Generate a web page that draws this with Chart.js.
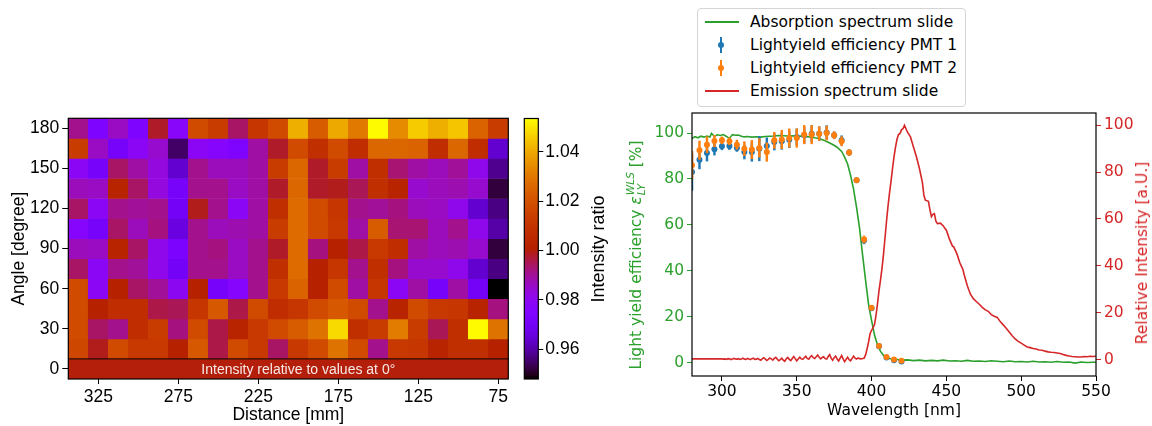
<!DOCTYPE html>
<html>
<head>
<meta charset="utf-8">
<script src="https://cdn.jsdelivr.net/npm/chart.js@4.4.1/dist/chart.umd.min.js"></script>
<style>
  body { margin: 0; background: #fff; }
  #wrap { position: relative; width: 1152px; height: 426px; overflow: hidden; }
  canvas { position: absolute; top: 0; }
  .vlabel { position: absolute; white-space: nowrap; transform: translate(-50%, -50%) rotate(-90deg); }
  #legend { position: absolute; left: 697px; top: 8px; width: 267px; height: 97px; border: 1px solid #d4d4d4;
            border-radius: 4px; background: #fff; font: 15.5px "DejaVu Sans"; color: #000; }
  .lrow { position: absolute; left: 0; height: 20px; width: 100%; }
  .ltext { position: absolute; left: 52px; top: 0; line-height: 20px; }
  .lline { position: absolute; left: 7px; top: 9px; width: 34px; height: 2px; }
  .lbar { position: absolute; left: 22px; top: 2px; width: 2px; height: 16px; }
  .ldot { position: absolute; left: 20px; top: 7px; width: 6px; height: 6px; border-radius: 50%; }
  .ss { display: inline-block; vertical-align: middle; font-size: 68%; line-height: 1.05; margin-left: 1px; }
  .ss span { display: block; font-style: italic; }
</style>
</head>
<body>
<div id="wrap">
  <canvas id="heat" width="520" height="426" style="left:0"></canvas>
  <canvas id="cbar" width="110" height="426" style="left:515px"></canvas>
  <canvas id="spec" width="552" height="426" style="left:600px"></canvas>
  <div class="vlabel" style="left:598px; top:249px; font:18px 'Liberation Sans'">Intensity ratio</div>
  <div class="vlabel" style="left:636px; top:255px; font:15.5px 'DejaVu Sans'; color:#2ca02c">Light yield efficiency <i>ε</i><span class="ss"><span>WLS</span><span>LY</span></span> [%]</div>
  <div class="vlabel" style="left:1142px; top:253px; font:15.5px 'DejaVu Sans'; color:#d62728">Relative Intensity [a.U.]</div>
  <div id="legend"></div>
</div>
<script>
// ---------- heat map: intensity ratio per distance (columns) and angle (rows) ----------
const distances = [337.5, 325, 312.5, 300, 287.5, 275, 262.5, 250, 237.5, 225, 212.5,
                   200, 187.5, 175, 162.5, 150, 137.5, 125, 112.5, 100, 87.5, 75];
const angles = [180, 165, 150, 135, 120, 105, 90, 75, 60, 45, 30, 15];
const distTicks = [325, 275, 225, 175, 125, 75];
const angleTicks = [0, 30, 60, 90, 120, 150, 180];
const ratioTicks = [0.96, 0.98, 1.00, 1.02, 1.04];

const ratio180 = [0.991, 0.974, 0.986, 0.974, 0.998, 0.978, 1.018, 1.013, 0.994, 1.011, 1.018, 1.041, 1.023, 1.040, 1.030, 1.053, 1.034, 1.046, 1.041, 1.045, 1.025, 1.013];
const ratio165 = [1.013, 0.986, 0.971, 0.979, 0.985, 0.955, 0.979, 0.977, 0.974, 0.989, 0.998, 1.018, 1.008, 1.018, 1.007, 1.026, 1.026, 1.025, 1.007, 1.026, 1.007, 0.964];
const ratio150 = [0.979, 0.971, 0.994, 0.989, 0.983, 0.964, 0.991, 0.987, 0.987, 0.989, 1.013, 1.026, 0.998, 1.013, 0.989, 1.008, 0.993, 0.989, 0.987, 0.990, 0.981, 0.958];
const ratio135 = [0.987, 0.986, 1.003, 0.994, 0.983, 0.971, 0.991, 0.991, 0.986, 0.989, 0.998, 1.026, 0.998, 0.999, 0.995, 1.008, 1.003, 0.985, 0.987, 0.988, 0.985, 0.952];
const ratio120 = [0.994, 0.979, 0.991, 0.990, 0.991, 0.970, 0.999, 0.991, 0.979, 0.989, 1.008, 1.027, 1.018, 1.011, 0.991, 0.990, 0.992, 0.987, 0.986, 0.981, 0.964, 0.957];
const ratio105 = [0.977, 0.971, 0.994, 0.987, 0.992, 0.966, 0.991, 0.987, 0.988, 0.989, 1.013, 1.027, 1.018, 1.012, 0.989, 1.023, 0.993, 0.993, 0.987, 0.991, 0.981, 0.960];
const ratio90  = [0.987, 0.986, 1.003, 0.994, 0.981, 0.973, 0.991, 0.992, 0.986, 0.991, 0.998, 1.027, 0.992, 1.002, 0.996, 1.012, 1.007, 0.989, 0.987, 0.988, 0.985, 0.952];
const ratio75  = [0.994, 0.979, 0.991, 0.990, 0.981, 0.970, 0.991, 0.991, 0.986, 0.991, 1.008, 1.027, 1.002, 1.011, 0.991, 1.008, 0.992, 0.985, 0.985, 0.981, 0.964, 0.957];
const ratio60  = [1.018, 0.979, 1.002, 0.994, 0.990, 0.980, 1.002, 0.971, 0.977, 0.991, 1.012, 1.025, 1.002, 1.018, 0.989, 1.011, 0.979, 0.989, 0.971, 0.989, 0.970, 0.948];
const ratio45  = [1.018, 1.002, 1.007, 1.007, 0.996, 0.995, 1.011, 1.022, 0.996, 1.018, 1.007, 1.011, 1.018, 1.022, 1.018, 0.991, 1.003, 1.018, 1.012, 1.011, 1.003, 0.992];
const ratio30  = [1.018, 0.994, 0.991, 1.007, 1.013, 0.992, 1.018, 0.996, 1.003, 1.012, 1.018, 1.023, 1.029, 1.048, 1.008, 1.013, 1.031, 1.013, 0.995, 1.008, 1.053, 1.029];
const ratio15  = [1.017, 0.999, 1.018, 1.012, 1.012, 1.002, 1.022, 0.996, 1.018, 1.012, 0.994, 1.012, 1.018, 1.029, 1.018, 0.991, 1.012, 1.011, 1.003, 1.008, 1.008, 1.002];
const ratioRows = [ratio180, ratio165, ratio150, ratio135, ratio120, ratio105, ratio90, ratio75, ratio60, ratio45, ratio30, ratio15];
const zeroRowRatio = 1.0;
const zeroRowText = 'Intensity relative to values at 0°';
const cbMin = 0.948, cbMax = 1.0535;

// ---------- spectra ----------
const absWl  = [280, 282, 284, 286, 288, 290, 292, 293, 295, 297, 299, 301, 303, 305, 307, 309, 311, 313, 315, 317, 320, 323, 326, 329, 332, 335, 338, 341, 344, 347, 350, 353, 356, 359, 362, 365, 368, 371, 374, 377, 380, 382, 384, 386, 388, 390, 392, 394, 396, 398, 400, 402, 404, 406, 408, 410, 412, 414, 417, 420, 424, 428, 432, 436, 440, 444, 448, 452, 456, 460, 464, 468, 472, 476, 480, 484, 488, 492, 496, 500, 504, 508, 512, 516, 520, 524, 528, 532, 536, 540, 544, 548, 550];
const absVal = [97.6, 98.4, 97.9, 98.6, 98.2, 98.7, 98.3, 99.8, 98.6, 99.2, 98.9, 99.3, 98.5, 97.6, 99.3, 99.0, 99.1, 98.6, 98.3, 98.5, 98.2, 98.4, 98.2, 98.5, 98.6, 98.7, 98.9, 98.8, 98.7, 98.8, 98.6, 98.7, 98.4, 98.3, 97.9, 97.6, 96.9, 96.0, 95.0, 93.8, 92.0, 89.5, 86.5, 81.5, 75.5, 67.5, 58.5, 47.0, 36.0, 25.5, 18.5, 12.0, 7.8, 5.0, 3.3, 2.5, 1.9, 1.6, 1.5, 1.2, 1.3, 1.0, 1.2, 0.9, 1.1, 0.9, 1.2, 0.8, 0.9, 0.7, 1.1, 0.7, 0.8, 0.6, 0.9, 0.7, 0.5, 0.8, 0.5, 0.6, 0.4, 0.7, 0.4, 0.5, 0.3, 0.6, 0.3, 0.4, -0.1, 0.4, 0.2, 0.3, 0.3];

const emWl  = [280, 300, 301, 302, 303, 304, 305, 306, 307, 308, 309, 310, 311, 312, 313, 314, 315, 316, 317, 318, 319,
               320, 321, 322, 323, 324, 325, 326, 327, 328, 329, 330, 331, 332, 333, 334, 335, 336, 337, 338, 339,
               340, 341, 342, 343, 344, 345, 346, 347, 348, 349, 350, 351, 352, 353, 354, 355, 356, 357, 358, 359,
               360, 361, 362, 363, 364, 365, 366, 367, 368, 369, 370, 371, 372, 373, 374, 375, 376, 377, 378, 379,
               380, 381, 382, 383, 384, 385, 386, 387, 388, 389, 390, 391, 392, 393, 394,
               395, 396, 397, 398, 399, 400, 401, 402, 403, 404, 405, 406, 407, 408, 409, 410, 411, 412, 413, 414, 415, 416, 417, 418, 419, 420, 421, 422, 423, 424, 426, 428, 430, 432, 434, 435, 436, 438, 439, 440, 441, 442, 443, 444, 446, 448, 449, 450, 452, 454, 455, 457, 459, 461, 462, 464, 466, 468, 470, 472, 474, 476, 478, 480, 482, 484, 486, 488, 490, 492, 494, 496, 498, 500, 502, 504, 506, 508, 510, 512, 514, 516, 518, 520, 522, 524, 526, 528, 530, 532, 534, 536, 538, 540, 542, 544, 546, 548, 550];
const emVal = [0.3, 0.3, 0.2, 0.3, 0.1, 0.4, 0.3, 0.0, 0.2, 0.5, 0.3, 0.2, 0.4, 0.1, 0.3, 0.6, 0.2, 0.1, 0.5, 0.3, 0.0,
               0.4, 0.6, 0.1, 0.2, 0.5, 0.0, -0.3, 0.4, 0.8, 0.2, -0.4, 0.1, 0.7, 0.3, -0.2, 0.5, 1.0, 0.2, -0.5, 0.0,
               0.6, -0.2, -0.7, 0.3, 0.9, 0.1, -0.4, 0.5, 1.3, 0.4, -0.6, 0.2, 1.0, 0.3, 0.1, 0.8, 1.4, 0.5, 0.2, 1.1,
               1.7, 0.8, 0.5, 1.2, 1.9, 1.0, 0.3, 0.9, 1.2, 0.4, 0.2, 1.3, 2.1, 0.6, -0.3, 0.8, 1.5, 0.2, -0.6, 0.6,
               1.7, 0.3, -0.9, 0.1, 1.0, 0.0, -0.5, 0.5, 1.5, 0.6, 0.2, 0.7, 0.4, 0.3, 0.5,
               0.6, 2.0, 4.5, 7.5, 11.0, 12.5, 13.5, 15.0, 19.0, 24.0, 29.5, 34.0, 39.0, 45.0, 52.0, 59.0, 65.5, 71.0, 76.0, 81.5, 86.5, 90.5, 94.0, 96.0, 96.5, 98.0, 98.5, 100.0, 98.5, 97.0, 95.0, 90.7, 86.5, 81.5, 75.5, 70.0, 68.0, 67.5, 64.0, 61.0, 62.0, 62.3, 59.0, 58.0, 58.2, 57.0, 56.0, 55.2, 51.5, 48.5, 48.0, 45.2, 41.3, 38.5, 36.0, 31.5, 28.0, 26.0, 24.8, 23.6, 22.3, 21.2, 20.6, 19.2, 18.5, 18.0, 16.2, 14.8, 13.4, 11.8, 10.2, 8.8, 7.8, 7.0, 6.2, 5.4, 5.1, 4.7, 4.5, 4.1, 4.0, 3.6, 3.3, 3.1, 3.0, 2.8, 2.6, 2.2, 1.8, 1.5, 1.3, 1.2, 1.1, 1.1, 1.3, 1.2, 1.4, 1.3, 1.4];

const pmtWl   = [280, 285, 290, 295, 300, 305, 310, 315, 320, 325, 330, 335, 340, 345, 350, 355, 360, 365, 370, 375, 380, 385, 390, 395, 400, 405, 410, 415, 420];
const pmt1Val = [83.0, 88.4, 91.3, 92.9, 94.2, 94.3, 93.5, 91.7, 91.7, 93.2, 94.3, 96.1, 96.4, 97.1, 98.3, 99.0, 99.7, 99.7, 100.2, 99.0, 96.8, 91.5, 79.4, 53.3, 23.8, 7.2, 2.4, 1.2, 0.6];
const pmt1Err = [8.0, 4.0, 3.5, 2.5, 1.5, 1.5, 1.5, 3.0, 4.0, 5.3, 3.6, 3.5, 3.5, 3.5, 3.5, 3.5, 3.5, 3.0, 3.0, 1.5, 2.0, 1.2, 1.0, 1.5, 1.0, 0.8, 0.5, 0.5, 0.5];
const pmt2Val = [86.0, 92.5, 94.9, 96.5, 96.8, 96.4, 94.9, 93.2, 92.8, 93.5, 91.7, 96.8, 97.2, 97.8, 97.8, 99.3, 99.3, 99.7, 100.0, 99.0, 96.4, 91.5, 79.4, 53.7, 24.0, 7.4, 2.6, 1.5, 0.9];
const pmt2Err = [6.0, 4.0, 3.5, 2.5, 1.5, 1.5, 2.0, 3.0, 4.0, 4.0, 4.0, 3.5, 4.0, 4.0, 4.0, 4.0, 4.0, 3.0, 3.0, 1.5, 2.0, 1.2, 1.0, 1.5, 1.0, 0.8, 0.5, 0.5, 0.5];
const wlTicks = [300, 350, 400, 450, 500, 550];
const pctTicks = [0, 20, 40, 60, 80, 100];

const legendLabels = ['Absorption spectrum slide', 'Lightyield efficiency PMT 1', 'Lightyield efficiency PMT 2', 'Emission spectrum slide'];
const legendKinds = ['line', 'err', 'err', 'line'];
const legendColors = ['#2ca02c', '#1f77b4', '#ff7f0e', '#d62728'];

// gnuplot colormap
function gnuplot(v) {
  const t = Math.min(1, Math.max(0, (v - cbMin) / (cbMax - cbMin)));
  const r = Math.sqrt(t), g = t * t * t, b = Math.max(0, Math.sin(2 * Math.PI * t));
  return 'rgb(' + Math.round(r * 255) + ',' + Math.round(g * 255) + ',' + Math.round(b * 255) + ')';
}

const LS = 'Liberation Sans';
const DJ = 'DejaVu Sans';
const rowHalf = (angles[0] - angles[1]) / 2;

function fixTicks(list) {
  return (scale) => { scale.ticks = list.map(v => ({value: v})); };
}

const framePlugin = {
  id: 'frame',
  afterDatasetsDraw(chart, args, opts) {
    const {ctx, chartArea: a} = chart;
    ctx.save();
    ctx.strokeStyle = '#000';
    ctx.lineWidth = opts.width || 1;
    ctx.strokeRect(a.left, a.top, a.width, a.height);
    ctx.restore();
  }
};

const zeroRowPlugin = {
  id: 'zeroRow',
  afterDatasetsDraw(chart) {
    const {ctx, chartArea: a, scales: {x, y}} = chart;
    const ySep = y.getPixelForValue(rowHalf);
    ctx.save();
    ctx.strokeStyle = '#2b0800';
    ctx.lineWidth = 1.3;
    ctx.beginPath();
    ctx.moveTo(a.left, ySep);
    ctx.lineTo(a.right, ySep);
    ctx.stroke();
    ctx.fillStyle = 'rgba(255,255,255,0.9)';
    ctx.font = '14px "' + LS + '"';
    ctx.textAlign = 'center';
    ctx.textBaseline = 'middle';
    ctx.fillText(zeroRowText, x.getPixelForValue(200), y.getPixelForValue(0) + 1);
    ctx.restore();
  }
};

// ---------- heat map chart ----------
const heatSets = ratioRows.map((row, r) => ({
  data: distances.map(d => ({x: d, y: [angles[r] - rowHalf, angles[r] + rowHalf]})),
  backgroundColor: row.map(gnuplot)
}));
heatSets.push({
  data: distances.map(d => ({x: d, y: [-rowHalf, rowHalf]})),
  backgroundColor: gnuplot(zeroRowRatio)
});

new Chart(document.getElementById('heat'), {
  type: 'bar',
  data: {datasets: heatSets},
  options: {
    responsive: false,
    animation: false,
    grouped: false,
    barPercentage: 1,
    categoryPercentage: 1,
    borderWidth: 0,
    layout: {padding: {top: 118.3, right: 11.7, left: 0, bottom: 0}},
    plugins: {legend: {display: false}, tooltip: {enabled: false}, frame: {width: 1.2}},
    scales: {
      x: {
        type: 'linear', reverse: true, min: 68.75, max: 343.75, offset: false,
        afterBuildTicks: fixTicks(distTicks),
        afterFit: s => { s.height = 47; },
        border: {display: false},
        grid: {display: true, offset: false, drawOnChartArea: false, tickLength: 5, color: '#000', tickWidth: 1},
        ticks: {color: '#000', font: {family: LS, size: 17.5}, padding: 3, maxRotation: 0, autoSkip: false, callback: v => String(v)},
        title: {display: true, text: 'Distance [mm]', color: '#000', font: {family: LS, size: 17.5}, padding: {top: 0, bottom: 0}}
      },
      y: {
        type: 'linear', min: -rowHalf, max: angles[0] + rowHalf,
        afterBuildTicks: fixTicks(angleTicks),
        afterFit: s => { s.width = 68.3; },
        border: {display: false},
        grid: {display: true, drawOnChartArea: false, tickLength: 6, color: '#000', tickWidth: 1},
        ticks: {color: '#000', font: {family: LS, size: 17.5}, padding: 3, autoSkip: false, callback: v => String(v)},
        title: {display: true, text: 'Angle [degree]', color: '#000', font: {family: LS, size: 17.5}, padding: {top: 9, bottom: 0}}
      }
    }
  },
  plugins: [zeroRowPlugin, framePlugin]
});

// ---------- colour bar ----------
new Chart(document.getElementById('cbar'), {
  type: 'bar',
  data: {
    labels: [''],
    datasets: [{
      data: [[cbMin, cbMax]],
      barPercentage: 1,
      categoryPercentage: 1,
      borderWidth: 0,
      backgroundColor: (c) => {
        const chart = c.chart;
        if (!chart.chartArea) return '#000';
        const ys = chart.scales.y;
        const grad = chart.ctx.createLinearGradient(0, ys.getPixelForValue(cbMin), 0, ys.getPixelForValue(cbMax));
        for (let i = 0; i <= 64; i++) {
          grad.addColorStop(i / 64, gnuplot(cbMin + (cbMax - cbMin) * i / 64));
        }
        return grad;
      }
    }]
  },
  options: {
    responsive: false,
    animation: false,
    layout: {padding: {top: 118.5, left: 9.3, bottom: 47, right: 0}},
    plugins: {legend: {display: false}, tooltip: {enabled: false}, frame: {width: 1.2}},
    scales: {
      x: {display: false},
      y: {
        position: 'right', min: cbMin, max: cbMax,
        afterBuildTicks: fixTicks(ratioTicks),
        afterFit: s => { s.width = 86.7; },
        border: {display: false},
        grid: {display: true, drawOnChartArea: false, tickLength: 5, color: '#000'},
        ticks: {color: '#000', font: {family: LS, size: 17.5}, padding: 2, callback: v => v.toFixed(2)}
      }
    }
  },
  plugins: [framePlugin]
});

// ---------- spectra chart ----------
const pts = (xs, ys) => xs.map((w, i) => ({x: w, y: ys[i]}));
const errs = (xs, ys, es) => xs.map((w, i) => ({x: w, y: [ys[i] - es[i], ys[i] + es[i]]}));

new Chart(document.getElementById('spec'), {
  type: 'line',
  data: {
    datasets: [
      {type: 'line', data: pts(emWl, emVal), yAxisID: 'y1', borderColor: '#d62728', borderWidth: 1.6, pointRadius: 0, order: 0},
      {type: 'line', data: pts(pmtWl, pmt2Val), showLine: false, pointRadius: 3, pointBorderWidth: 0, pointBackgroundColor: '#ff7f0e', order: 1},
      {type: 'bar', data: errs(pmtWl, pmt2Val, pmt2Err), backgroundColor: '#ff7f0e', barThickness: 1.8, grouped: false, borderWidth: 0, order: 2},
      {type: 'line', data: pts(pmtWl, pmt1Val), showLine: false, pointRadius: 3, pointBorderWidth: 0, pointBackgroundColor: '#1f77b4', order: 3},
      {type: 'bar', data: errs(pmtWl, pmt1Val, pmt1Err), backgroundColor: '#1f77b4', barThickness: 1.8, grouped: false, borderWidth: 0, order: 4},
      {type: 'line', data: pts(absWl, absVal), borderColor: '#2ca02c', borderWidth: 1.6, pointRadius: 0, order: 5}
    ]
  },
  options: {
    responsive: false,
    animation: false,
    layout: {padding: {top: 113, right: 0, left: 0, bottom: 0}},
    plugins: {legend: {display: false}, tooltip: {enabled: false}, frame: {width: 1.2}},
    scales: {
      x: {
        type: 'linear', min: 280, max: 550, offset: false,
        afterBuildTicks: fixTicks(wlTicks),
        afterFit: s => { s.height = 50; },
        border: {display: false},
        grid: {display: true, offset: false, drawOnChartArea: false, tickLength: 5, color: '#000'},
        ticks: {color: '#000', font: {family: DJ, size: 15.5}, padding: 2, maxRotation: 0, callback: v => String(v)},
        title: {display: true, text: 'Wavelength [nm]', color: '#000', font: {family: DJ, size: 15.5}, padding: {top: 0, bottom: 6}}
      },
      y: {
        type: 'linear', position: 'left', min: -5.7, max: 108.7,
        afterBuildTicks: fixTicks(pctTicks),
        afterFit: s => { s.width = 92; },
        border: {display: false},
        grid: {display: true, drawOnChartArea: false, tickLength: 5, color: '#2ca02c'},
        ticks: {color: '#2ca02c', font: {family: DJ, size: 15.5}, padding: 3, callback: v => String(v)}
      },
      y1: {
        type: 'linear', position: 'right', min: -7.0, max: 105.2,
        afterBuildTicks: fixTicks(pctTicks),
        afterFit: s => { s.width = 56; },
        border: {display: false},
        grid: {display: true, drawOnChartArea: false, tickLength: 5, color: '#d62728'},
        ticks: {color: '#d62728', font: {family: DJ, size: 15.5}, padding: 3, callback: v => String(v)}
      }
    }
  },
  plugins: [framePlugin]
});

// ---------- legend ----------
const legend = document.getElementById('legend');
legendLabels.forEach((label, i) => {
  const row = document.createElement('div');
  row.className = 'lrow';
  row.style.top = (3 + 23 * i) + 'px';
  if (legendKinds[i] === 'line') {
    row.innerHTML = '<div class="lline" style="background:' + legendColors[i] + '"></div>';
  } else {
    row.innerHTML = '<div class="lbar" style="background:' + legendColors[i] + '"></div>' +
                    '<div class="ldot" style="background:' + legendColors[i] + '"></div>';
  }
  const t = document.createElement('div');
  t.className = 'ltext';
  t.textContent = label;
  row.appendChild(t);
  legend.appendChild(row);
});
</script>
</body>
</html>
